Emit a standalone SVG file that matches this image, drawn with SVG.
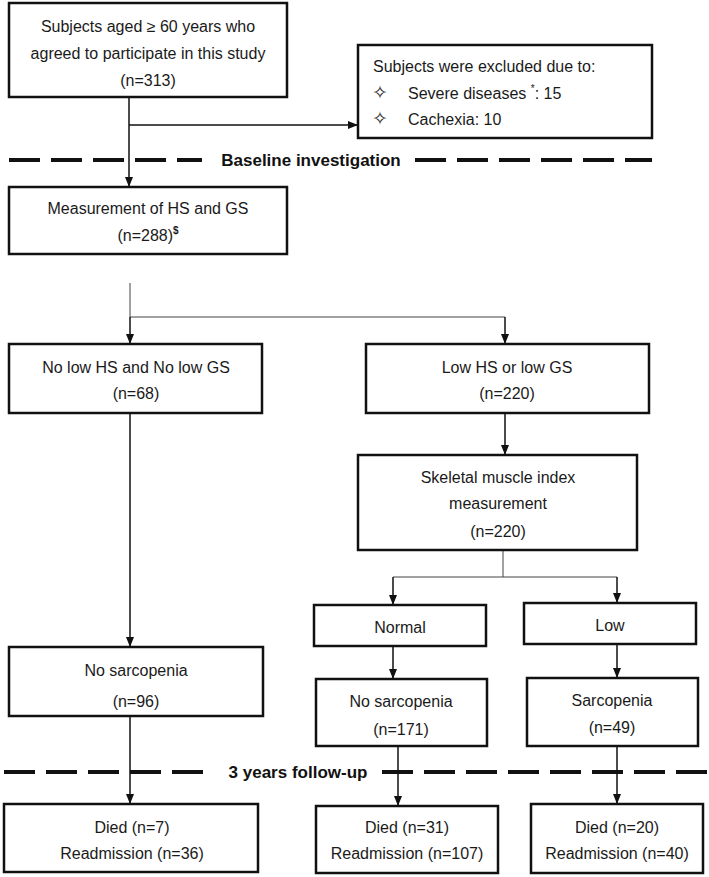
<svg xmlns="http://www.w3.org/2000/svg" width="709" height="877" viewBox="0 0 709 877">
<style>
.box{fill:#fff;stroke:#111;stroke-width:2.5}
.t{font-family:"Liberation Sans",Arial,sans-serif;font-size:16px;fill:#1a1a1a;text-anchor:middle}
.tl{font-family:"Liberation Sans",Arial,sans-serif;font-size:16px;fill:#1a1a1a}
.b{font-family:"Liberation Sans",Arial,sans-serif;font-size:17px;font-weight:bold;fill:#111;text-anchor:middle}
.c{fill:none;stroke:#111;stroke-width:1.5}
.thin{fill:none;stroke:#444;stroke-width:1}
.dash{fill:none;stroke:#111;stroke-width:4;stroke-dasharray:31 11}
.star{font-family:"DejaVu Sans",sans-serif;font-size:19px;fill:#1a1a1a}
</style>
<defs>
<marker id="ah" markerWidth="10" markerHeight="10" refX="9" refY="5" orient="auto" markerUnits="userSpaceOnUse">
<path d="M0,1 L10,5 L0,9 Z" fill="#111"/>
</marker>
</defs>
<g id="separators">
<line class="dash" x1="9" y1="160" x2="202" y2="160"/>
<text class="b" x="311" y="166">Baseline investigation</text>
<line class="dash" x1="415" y1="160" x2="652" y2="160"/>
<line class="dash" x1="4" y1="772" x2="206" y2="772"/>
<text class="b" x="298" y="778">3 years follow-up</text>
<line class="dash" x1="382" y1="772" x2="709" y2="772"/>
</g>
<g id="connectors">
<line class="c" x1="129" y1="97" x2="129" y2="186" marker-end="url(#ah)"/>
<line class="c" x1="129" y1="125" x2="357" y2="125" marker-end="url(#ah)"/>
<polyline class="thin" points="130,283 130,317 505,317"/>
<line class="c" x1="130" y1="317" x2="130" y2="343" marker-end="url(#ah)"/>
<line class="c" x1="505" y1="317" x2="505" y2="343" marker-end="url(#ah)"/>
<line class="c" x1="505" y1="413" x2="505" y2="454" marker-end="url(#ah)"/>
<polyline class="thin" points="503,550 503,577"/>
<line class="thin" x1="393" y1="577" x2="617" y2="577"/>
<line class="c" x1="393" y1="577" x2="393" y2="604" marker-end="url(#ah)"/>
<line class="c" x1="617" y1="577" x2="617" y2="602" marker-end="url(#ah)"/>
<line class="c" x1="393" y1="646" x2="393" y2="678" marker-end="url(#ah)"/>
<line class="c" x1="617" y1="644" x2="617" y2="677" marker-end="url(#ah)"/>
<line class="c" x1="130" y1="413" x2="130" y2="646" marker-end="url(#ah)"/>
<line class="c" x1="130" y1="716" x2="130" y2="803" marker-end="url(#ah)"/>
<line class="c" x1="398" y1="746" x2="398" y2="805" marker-end="url(#ah)"/>
<line class="c" x1="617" y1="746" x2="617" y2="803" marker-end="url(#ah)"/>
</g>
<g id="n_start">
<rect class="box" x="9" y="3" width="278" height="94"/>
<text class="t" x="148" y="32">Subjects aged ≥ 60 years who</text>
<text class="t" x="148" y="59">agreed to participate in this study</text>
<text class="t" x="148" y="86">(n=313)</text>
</g>
<g id="n_excluded">
<rect class="box" x="358" y="45" width="294" height="93"/>
<text class="tl" x="373" y="72">Subjects were excluded due to:</text>
<text class="star" x="372" y="99">✧</text>
<text class="tl" x="408" y="99">Severe diseases <tspan font-size="10" dy="-7">*</tspan><tspan dy="7">: 15</tspan></text>
<text class="star" x="372" y="125">✧</text>
<text class="tl" x="408" y="125">Cachexia: 10</text>
</g>
<g id="n_measure">
<rect class="box" x="9" y="187" width="278" height="67"/>
<text class="t" x="148" y="214">Measurement of HS and GS</text>
<text class="t" x="148" y="241">(n=288)<tspan font-size="10" font-weight="bold" dy="-7">$</tspan></text>
</g>
<g id="n_nolow">
<rect class="box" x="9" y="344" width="253" height="69"/>
<text class="t" x="136" y="373">No low HS and No low GS</text>
<text class="t" x="136" y="399">(n=68)</text>
</g>
<g id="n_low">
<rect class="box" x="366" y="344" width="283" height="69"/>
<text class="t" x="507" y="373">Low HS or low GS</text>
<text class="t" x="507" y="399">(n=220)</text>
</g>
<g id="n_smi">
<rect class="box" x="358" y="455" width="279" height="95"/>
<text class="t" x="498" y="483">Skeletal muscle index</text>
<text class="t" x="498" y="509">measurement</text>
<text class="t" x="498" y="537">(n=220)</text>
</g>
<g id="n_normal">
<rect class="box" x="314" y="605" width="172" height="41"/>
<text class="t" x="400" y="633">Normal</text>
</g>
<g id="n_lowsmi">
<rect class="box" x="524" y="603" width="172" height="41"/>
<text class="t" x="610" y="631">Low</text>
</g>
<g id="n_nosarc96">
<rect class="box" x="9" y="647" width="254" height="69"/>
<text class="t" x="136" y="676">No sarcopenia</text>
<text class="t" x="136" y="707">(n=96)</text>
</g>
<g id="n_nosarc171">
<rect class="box" x="316" y="679" width="171" height="67"/>
<text class="t" x="401" y="707">No sarcopenia</text>
<text class="t" x="401" y="735">(n=171)</text>
</g>
<g id="n_sarc">
<rect class="box" x="527" y="678" width="171" height="68"/>
<text class="t" x="612" y="706">Sarcopenia</text>
<text class="t" x="612" y="733">(n=49)</text>
</g>
<g id="n_out1">
<rect class="box" x="4" y="804" width="254" height="68"/>
<text class="t" x="132" y="833">Died (n=7)</text>
<text class="t" x="132" y="859">Readmission (n=36)</text>
</g>
<g id="n_out2">
<rect class="box" x="316" y="806" width="182" height="67"/>
<text class="t" x="407" y="833">Died (n=31)</text>
<text class="t" x="407" y="859">Readmission (n=107)</text>
</g>
<g id="n_out3">
<rect class="box" x="531" y="804" width="172" height="69"/>
<text class="t" x="617" y="833">Died (n=20)</text>
<text class="t" x="617" y="859">Readmission (n=40)</text>
</g>
</svg>
